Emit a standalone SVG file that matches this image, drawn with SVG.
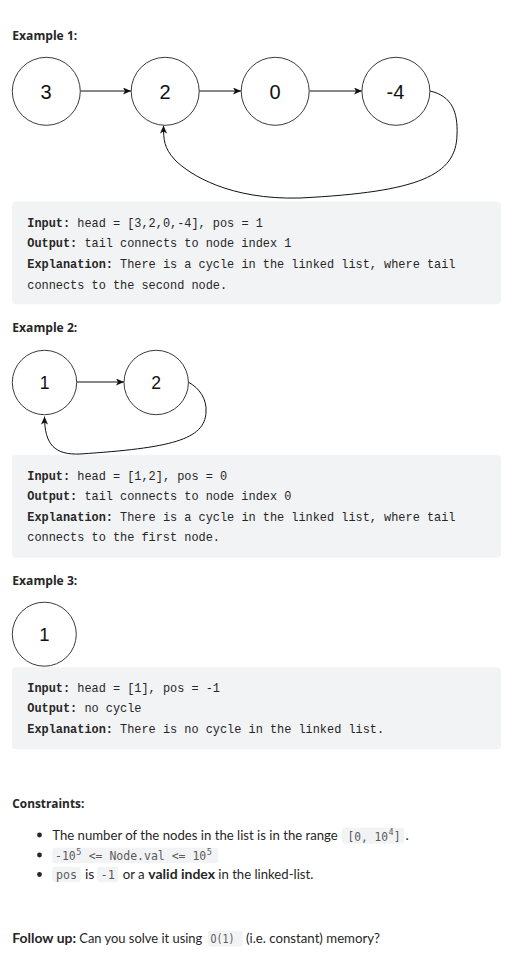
<svg xmlns="http://www.w3.org/2000/svg" width="513" height="969" viewBox="0 0 513 969">
<style>
.h{font-family:"Open Sans","Noto Sans",sans-serif;font-weight:700;font-size:13px;fill:#262626}
.b{font-family:Lato,"Noto Sans",sans-serif;font-size:14px;fill:#262626}
.bb{font-family:Lato,"Noto Sans",sans-serif;font-size:14px;font-weight:700;fill:#262626}
.c{font-family:"Liberation Mono","DejaVu Sans Mono",monospace;font-size:11.9px;fill:#262626}
.c tspan.k{font-weight:700}
.ic{font-family:"DejaVu Sans Mono","Liberation Mono",monospace;font-size:11.5px;fill:#5a5a5a}
.sup{font-family:"DejaVu Sans Mono","Liberation Mono",monospace;font-size:8.5px;fill:#5a5a5a}
.blk{fill:#f2f3f5}
.ib{fill:#f2f3f5}
.node{fill:#fff;stroke:#3a3a3a;stroke-width:1}
.nt{font-family:"Liberation Sans",Arial,sans-serif;fill:#111;text-anchor:middle}
.edge{fill:none;stroke:#111;stroke-width:1;marker-end:url(#arr)}
</style>
<defs>
<marker id="arr" viewBox="0 0 8 7" refX="8" refY="3.5" markerWidth="8" markerHeight="7" markerUnits="userSpaceOnUse" orient="auto">
<path d="M0,0 L8,3.5 L0,7 L2,3.5 z" fill="#111"/>
</marker>
</defs>
<rect width="513" height="969" fill="#fff"/>

<!-- Example 1 -->
<text class="h" x="12.3" y="40" textLength="65" lengthAdjust="spacingAndGlyphs">Example 1:</text>
<g id="connectors">
<line class="edge" x1="80.3" y1="91" x2="131" y2="91"/>
<line class="edge" x1="199" y1="91" x2="241" y2="91"/>
<line class="edge" x1="309.5" y1="91" x2="362" y2="91"/>
<path class="edge" d="M 430 91 C 452 96 458 112 457 135 C 456 175 420 192 300 198 C 230 200 190 175 175 160 C 164 148 163.5 140 163.5 125.5"/>
<line class="edge" x1="76.7" y1="382" x2="124" y2="382"/>
<path class="edge" d="M 188 382 C 200 388 207 400 206 412 C 205 440 170 448 80 454 C 55 455 44.5 445 44.5 416.5"/>
</g>
<g id="e1n0"><circle class="node" cx="46.3" cy="91.3" r="34"/><text class="nt" x="46" y="98.5" font-size="20">3</text></g>
<g id="e1n1"><circle class="node" cx="165.2" cy="91.3" r="34"/><text class="nt" x="165" y="98.5" font-size="20">2</text></g>
<g id="e1n2"><circle class="node" cx="275.2" cy="91.3" r="34"/><text class="nt" x="275" y="98.5" font-size="20">0</text></g>
<g id="e1n3"><circle class="node" cx="395.9" cy="91.3" r="34"/><text class="nt" x="395.5" y="98.5" font-size="20">-4</text></g>

<g id="code1">
<rect class="blk" x="12" y="201.7" width="489" height="102.6" rx="4"/>
<text class="c" x="27.3" y="226.5"><tspan class="k">Input:</tspan> head = [3,2,0,-4], pos = 1</text>
<text class="c" x="27.3" y="247"><tspan class="k">Output:</tspan> tail connects to node index 1</text>
<text class="c" x="27.3" y="268"><tspan class="k">Explanation:</tspan> There is a cycle in the linked list, where tail</text>
<text class="c" x="27.3" y="288.5">connects to the second node.</text>
</g>

<!-- Example 2 -->
<text class="h" x="12.3" y="332" textLength="65" lengthAdjust="spacingAndGlyphs">Example 2:</text>
<g id="e2n0"><circle class="node" cx="44.5" cy="382.5" r="32.2"/><text class="nt" x="44.5" y="388.5" font-size="17.5">1</text></g>
<g id="e2n1"><circle class="node" cx="156.2" cy="382.5" r="32.2"/><text class="nt" x="156" y="388.5" font-size="17.5">2</text></g>

<g id="code2">
<rect class="blk" x="12" y="455" width="489" height="102.7" rx="4"/>
<text class="c" x="27.3" y="479.8"><tspan class="k">Input:</tspan> head = [1,2], pos = 0</text>
<text class="c" x="27.3" y="500.3"><tspan class="k">Output:</tspan> tail connects to node index 0</text>
<text class="c" x="27.3" y="520.8"><tspan class="k">Explanation:</tspan> There is a cycle in the linked list, where tail</text>
<text class="c" x="27.3" y="541.3">connects to the first node.</text>
</g>

<!-- Example 3 -->
<text class="h" x="12.3" y="585" textLength="65" lengthAdjust="spacingAndGlyphs">Example 3:</text>
<g id="e3n0"><circle class="node" cx="44.3" cy="634.2" r="32"/><text class="nt" x="44.3" y="640.8" font-size="18.5">1</text></g>

<g id="code3">
<rect class="blk" x="12" y="667.3" width="489" height="82" rx="4"/>
<text class="c" x="27.3" y="691.5"><tspan class="k">Input:</tspan> head = [1], pos = -1</text>
<text class="c" x="27.3" y="712"><tspan class="k">Output:</tspan> no cycle</text>
<text class="c" x="27.3" y="732.5"><tspan class="k">Explanation:</tspan> There is no cycle in the linked list.</text>
</g>

<!-- Constraints -->
<text class="h" x="12.3" y="808" textLength="72" lengthAdjust="spacingAndGlyphs">Constraints:</text>
<circle cx="39.5" cy="835" r="2.4" fill="#262626"/>
<circle cx="39.5" cy="855" r="2.4" fill="#262626"/>
<circle cx="39.5" cy="874.5" r="2.4" fill="#262626"/>

<text class="b" x="52.3" y="840" style="font-size:13.2px" textLength="285.5" lengthAdjust="spacingAndGlyphs">The number of the nodes in the list is in the range</text>
<rect class="ib" x="342" y="827.7" width="62.3" height="16" rx="3"/>
<text class="ic" x="347.5" y="840.5" textLength="40.5" lengthAdjust="spacingAndGlyphs">[0, 10</text>
<text class="sup" x="388.6" y="835.3">4</text>
<text class="ic" x="393.8" y="840.5">]</text>
<text class="b" x="405.5" y="840">.</text>

<rect class="ib" x="52.3" y="847.7" width="166" height="15.6" rx="3"/>
<text class="ic" x="55" y="860">-10</text>
<text class="sup" x="76.3" y="854.8">5</text>
<text class="ic" x="88.7" y="860" textLength="117.6" lengthAdjust="spacingAndGlyphs">&lt;= Node.val &lt;= 10</text>
<text class="sup" x="206.8" y="854.8">5</text>

<rect class="ib" x="52.3" y="866.7" width="28.4" height="15.6" rx="3"/>
<text class="ic" x="56" y="879" textLength="21" lengthAdjust="spacingAndGlyphs">pos</text>
<text class="b" x="85" y="879.3">is</text>
<rect class="ib" x="97.3" y="866.7" width="21" height="15.6" rx="3"/>
<text class="ic" x="100.5" y="879" textLength="14.5" lengthAdjust="spacingAndGlyphs">-1</text>
<text class="b" x="122.7" y="879.3" textLength="22" lengthAdjust="spacingAndGlyphs">or a</text>
<text class="bb" x="148.3" y="879.3" textLength="66.7" lengthAdjust="spacingAndGlyphs">valid index</text>
<text class="b" x="218.3" y="879.3" textLength="95" lengthAdjust="spacingAndGlyphs">in the linked-list.</text>

<!-- Follow up -->
<text class="bb" x="12.3" y="943" textLength="63.7" lengthAdjust="spacingAndGlyphs">Follow up:</text>
<text class="b" x="79.3" y="943" textLength="123" lengthAdjust="spacingAndGlyphs">Can you solve it using</text>
<rect class="ib" x="208" y="930.7" width="34.5" height="16" rx="3"/>
<text class="ic" x="210.5" y="943" textLength="24" lengthAdjust="spacingAndGlyphs">O(1)</text>
<text class="b" x="246" y="943" textLength="134" lengthAdjust="spacingAndGlyphs">(i.e. constant) memory?</text>
</svg>
